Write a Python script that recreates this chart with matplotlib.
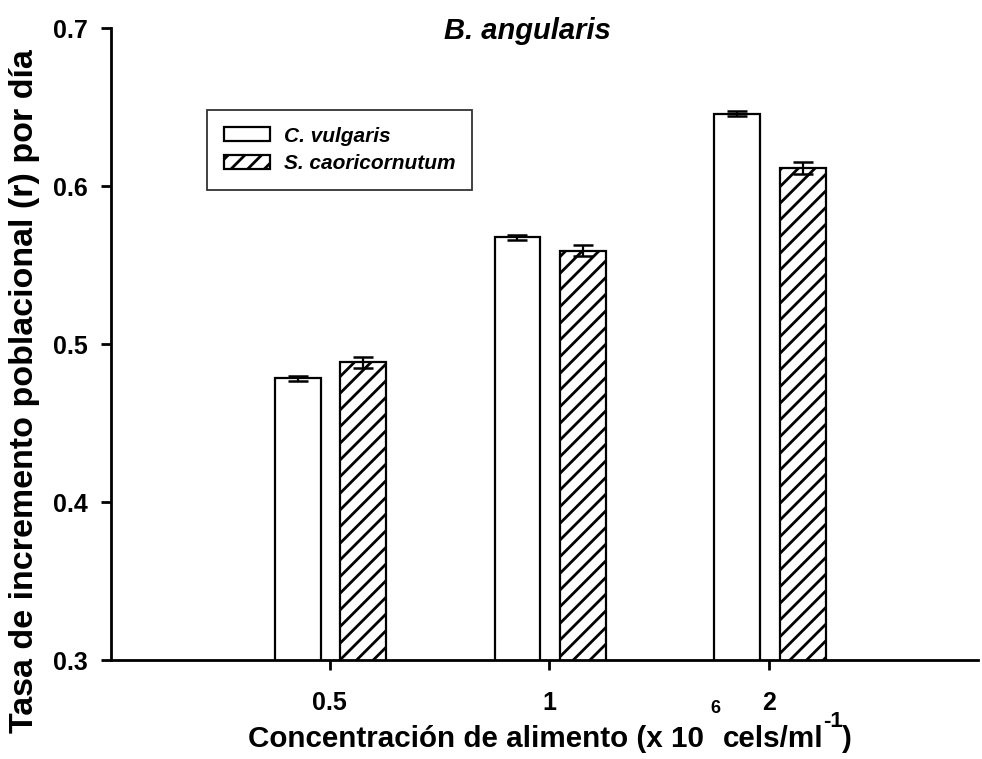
import matplotlib
matplotlib.use("Agg")
import matplotlib.pyplot as plt
import numpy as np

plt.rcParams['font.family'] = ['Liberation Sans', 'DejaVu Sans']
plt.rcParams['hatch.linewidth'] = 2.0

categories = ["0.5", "1", "2"]
legend_labels = ["C. vulgaris", "S. caoricornutum"]
vulgaris = [0.4783, 0.5675, 0.6458]
vulgaris_err = [0.0015, 0.0015, 0.0015]
capri = [0.4883, 0.5590, 0.6115]
capri_err = [0.0035, 0.0035, 0.0038]
yticks = [0.3, 0.4, 0.5, 0.6, 0.7]

W, H = 982, 759
fig = plt.figure(figsize=(W / 100, H / 100), dpi=100)
ax = fig.add_axes([111 / W, 1 - 660 / H, (978 - 111) / W, (660 - 28) / H])

x = np.arange(len(categories))
bw = 0.209
b1 = ax.bar(x - 0.1455, vulgaris, bw, color='white', edgecolor='black',
            linewidth=1.6, label=legend_labels[0], zorder=2)
b2 = ax.bar(x + 0.152, capri, bw, color='white', edgecolor='black', hatch='//',
            linewidth=1.6, label=legend_labels[1], zorder=2)
ax.errorbar(x - 0.1455, vulgaris, yerr=vulgaris_err, fmt='none', ecolor='black',
            elinewidth=1.6, capsize=7, capthick=1.8, zorder=3)
ax.errorbar(x + 0.152, capri, yerr=capri_err, fmt='none', ecolor='black',
            elinewidth=1.6, capsize=7, capthick=1.8, zorder=3)

ax.set_ylim(0.3, 0.7)
ax.set_xlim(-0.995, 2.95)
ax.set_yticks(yticks)
ax.set_yticklabels([f"{v:.1f}" for v in yticks])
ax.set_xticks(x)
ax.set_xticklabels(categories)
for s in ['top', 'right']:
    ax.spines[s].set_visible(False)
for s in ['left', 'bottom']:
    ax.spines[s].set_linewidth(2.0)
ax.tick_params(axis='both', direction='out', width=2.0, length=7,
               labelsize=18)
ax.tick_params(axis='x', pad=15)
ax.tick_params(axis='y', pad=10)
for lab in ax.get_xticklabels() + ax.get_yticklabels():
    lab.set_fontweight('bold')

leg = ax.legend(loc='upper left',
                bbox_to_anchor=((207 - 111) / (978 - 111), 1 - (110 - 28) / 632),
                frameon=True, fancybox=False, edgecolor='black',
                prop={'weight': 'bold', 'style': 'italic', 'size': 15},
                handlelength=2.2, handleheight=0.65, borderpad=0.8,
                labelspacing=0.4, handletextpad=0.7, borderaxespad=0)
leg.get_frame().set_linewidth(1.3)

fig.text(527 / W, 1 - 31 / H, "B. angularis", ha='center', va='center',
         fontsize=21, fontweight='bold', fontstyle='italic')

ax.set_ylabel("Tasa de incremento poblacional (r) por día", fontsize=24.5,
              fontweight='bold')
ax.yaxis.set_label_coords(-71 / (978 - 111), (660 - 391) / 632)

# x label with superscripts
fig.canvas.draw()
r = fig.canvas.get_renderer()
fs = 21.3
base_y = 1 - 747 / H
t1 = fig.text(248 / W, base_y, "Concentración de alimento (x 10", fontsize=fs,
              fontweight='bold', va='baseline')
e1 = t1.get_window_extent(r)
sp = fig.text((e1.x1 + 6) / W, 1 - 713 / H, "6", fontsize=13, fontweight='bold',
              va='baseline')
es = sp.get_window_extent(r)
t2 = fig.text((es.x1 + 3) / W, base_y, "cels/ml", fontsize=fs, fontweight='bold',
              va='baseline')
e2 = t2.get_window_extent(r)
t3 = fig.text((e2.x1 - 1) / W, 1 - 727 / H, "-1", fontsize=16, fontweight='bold',
              va='baseline')
e3 = t3.get_window_extent(r)
fig.text((e3.x1) / W, base_y, ")", fontsize=fs, fontweight='bold', va='baseline')

fig.savefig("out.png", dpi=100)
